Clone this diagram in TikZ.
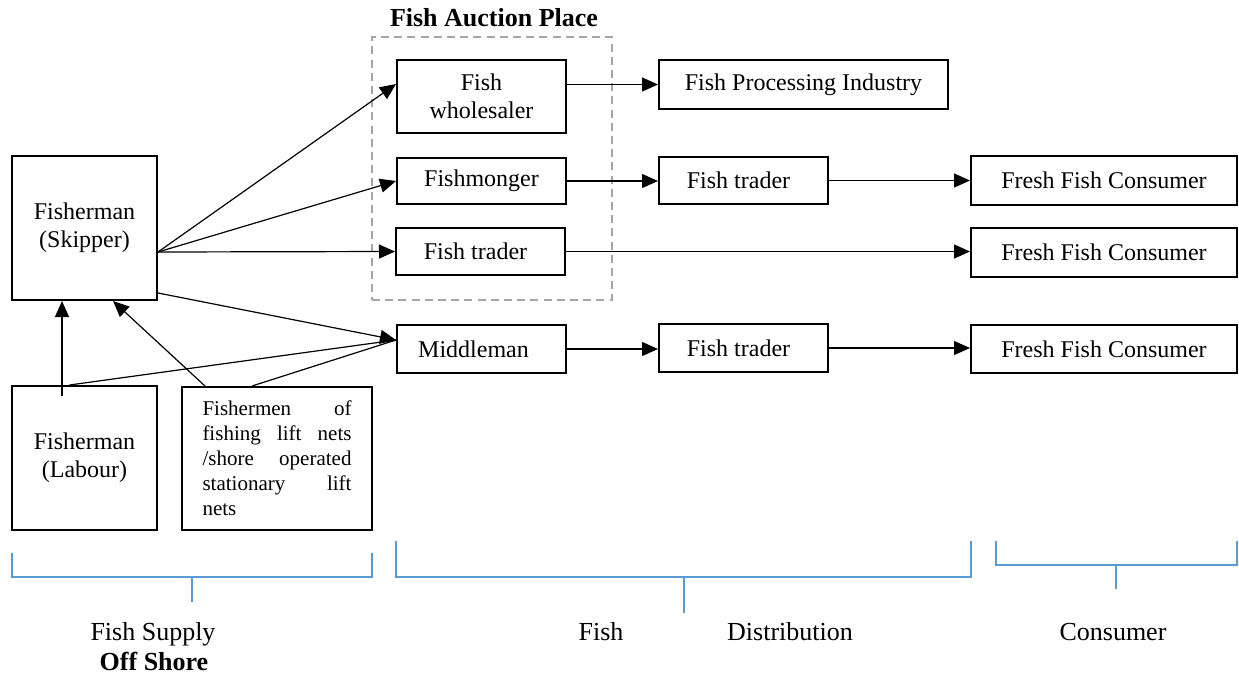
\documentclass[tikz,border=0pt]{standalone}
\usepackage{fontspec}
\setmainfont{Liberation Serif}
\usetikzlibrary{arrows.meta,calc}
\definecolor{brk}{HTML}{5B9BD5}
\definecolor{dgray}{HTML}{A6A6A6}
\newcommand{\jline}[1]{\makebox[74.5pt][l]{#1}}
\begin{document}
\begin{tikzpicture}[x=0.5pt,y=-0.5pt,
  box/.style={draw,line width=1pt,inner sep=0pt,align=center,font=\fontsize{12}{13.8}\selectfont},
  arr/.style={line width=0.6pt,-{Triangle[length=8pt,width=7pt]}},
  bracket/.style={draw=brk,line width=0.7pt},
  lab/.style={font=\fontsize{13}{15}\selectfont,inner sep=0pt,anchor=base}]
\useasboundingbox (0,0) rectangle (1239,675);
% auction place
\node[draw=dgray,dashed,dash pattern=on 4pt off 2.6pt,line width=1pt,minimum width=120pt,minimum height=131.5pt,inner sep=0pt] (auction) at (492,168.5) {};
\node[font=\bfseries\fontsize{13}{15}\selectfont,inner sep=0pt] (auctlab) at (494,18) {Fish Auction Place};
% left boxes
\node[box,minimum width=72.5pt,minimum height=72pt] (skip) at (84.5,228) {Fisherman\\(Skipper)};
\node[box,minimum width=72.5pt,minimum height=72pt] (labour) at (84.5,458) {Fisherman\\(Labour)};
\node[box,minimum width=95pt,minimum height=71.5pt,text width=74.5pt,align=left,inner xsep=10.25pt,font=\fontsize{10.5}{12.5}\selectfont] (lift) at (277,458.5)
  {\jline{Fishermen\hfill of}\\\jline{fishing\hfill lift\hfill nets}\\\jline{/shore\hfill operated}\\\jline{stationary\hfill lift}\\nets};
% auction boxes
\node[box,minimum width=84.5pt,minimum height=36.5pt] (whole) at (481.5,96.5) {Fish\\wholesaler};
\node[box,minimum width=84.5pt,minimum height=23pt] (monger) at (481.5,181) {Fishmonger};
\node[box,minimum width=84.5pt,minimum height=23.5pt] (trader1) at (480.5,251.5) {Fish trader\hspace{5pt}};
\node[box,minimum width=84.5pt,minimum height=24pt] (middle) at (481.5,349) {Middleman\hspace{8pt}};
% right boxes
\node[box,minimum width=144.5pt,minimum height=24.5pt] (proc) at (803.5,84.5) {Fish Processing Industry};
\node[box,minimum width=84.5pt,minimum height=23.5pt] (trader2) at (743.5,180.5) {Fish trader\hspace{5pt}};
\node[box,minimum width=84.5pt,minimum height=24pt] (trader3) at (743.5,348) {Fish trader\hspace{5pt}};
\node[box,minimum width=133pt,minimum height=24.5pt] (cons1) at (1104,180.5) {Fresh Fish Consumer};
\node[box,minimum width=133pt,minimum height=24.5pt] (cons2) at (1104,252.5) {Fresh Fish Consumer};
\node[box,minimum width=133pt,minimum height=24pt] (cons3) at (1104,349) {Fresh Fish Consumer};
% skipper arrows
\draw[arr] ([yshift=-12pt]skip.east) -- ([yshift=6.25pt]whole.west);
\draw[arr] ([yshift=-12pt]skip.east) -- (monger.west);
\draw[arr] ([yshift=-12pt]skip.east) -- (trader1.west);
\draw[arr] ([yshift=4pt]skip.south east) -- ([yshift=4.5pt]middle.west);
% labour / lift nets
\draw[arr] ([xshift=-11.25pt,yshift=-5.5pt]labour.north) -- ([xshift=-11.25pt]skip.south);
\draw[line width=0.6pt] ([xshift=-7.5pt]labour.north) -- ([yshift=4.5pt]middle.west);
\draw[arr] ([xshift=-36pt]lift.north) -- ([xshift=14.25pt]skip.south);
\draw[line width=0.6pt] ([xshift=-12.5pt]lift.north) -- ([yshift=4.5pt]middle.west);
% horizontal arrows
\draw[arr] (whole.east |- proc.west) -- (proc.west);
\draw[arr] (monger.east) -- (monger.east -| trader2.west);
\draw[arr] (trader2.east) -- (trader2.east -| cons1.west);
\draw[arr] (trader1.east) -- (trader1.east -| cons2.west);
\draw[arr] (middle.east) -- (middle.east -| trader3.west);
\draw[arr] (trader3.east) -- (trader3.east -| cons3.west);
% brackets
\draw[bracket] (12,553) -- (12,577) -- (372,577) -- (372,553);
\draw[bracket] (192,577) -- (192,602);
\draw[bracket] (396,541) -- (396,577) -- (971,577) -- (971,541);
\draw[bracket] (684,577) -- (684,613);
\draw[bracket] (996,541) -- (996,565) -- (1237,565) -- (1237,541);
\draw[bracket] (1116,565) -- (1116,589);
% labels
\node[lab] (l1) at (153,640) {Fish Supply};
\node[lab,font=\bfseries\fontsize{13}{15}\selectfont] (l2) at (154,670) {Off Shore};
\node[lab] (l3) at (601,640) {Fish};
\node[lab] (l4) at (790,640) {Distribution};
\node[lab] (l5) at (1113,640) {Consumer};
\end{tikzpicture}
\end{document}
